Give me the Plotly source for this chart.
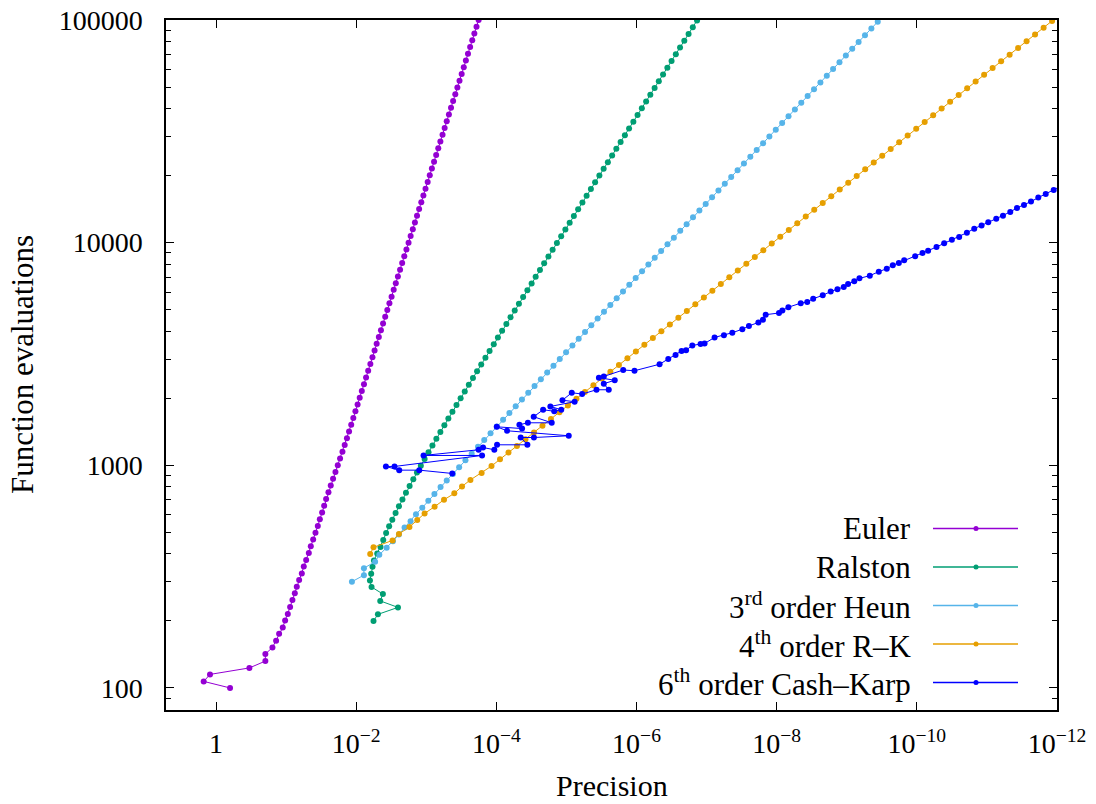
import numpy as np
import plotly.graph_objects as go

# ---------------------------------------------------------------------------
# Function evaluations (y) and log10 of the achieved precision (x) per method
# ---------------------------------------------------------------------------
euler_evals = [100, 107, 115, 123, 132, 142, 152, 163, 175, 187,
               201, 215, 231, 248, 266, 285, 305, 327, 351, 376,
               404, 433, 464, 498, 534, 572, 614, 658, 705, 756,
               811, 870, 933, 1000, 1072, 1150, 1233, 1322, 1417, 1520,
               1630, 1748, 1874, 2009, 2154, 2310, 2477, 2656, 2848, 3054,
               3275, 3511, 3765, 4037, 4329, 4642, 4977, 5337, 5722, 6136,
               6579, 7055, 7565, 8111, 8697, 9326, 10000, 10723, 11498, 12328,
               13219, 14175, 15199, 16298, 17475, 18738, 20092, 21544, 23101, 24771,
               26561, 28480, 30539, 32745, 35112, 37649, 40370, 43288, 46416, 49770,
               53367, 57224, 61359, 65793, 70548, 75646, 81113, 86975, 93260, 100000]
euler_log_prec = [-0.200, 0.176, 0.086, -0.476, -0.704, -0.704, -0.805, -0.857, -0.900, -0.952,
                  -0.986, -1.024, -1.057, -1.090, -1.124, -1.152, -1.186, -1.224, -1.252, -1.286,
                  -1.324, -1.352, -1.386, -1.419, -1.452, -1.481, -1.514, -1.543, -1.571, -1.604,
                  -1.637, -1.670, -1.704, -1.737, -1.770, -1.804, -1.836, -1.868, -1.898, -1.929,
                  -1.959, -1.989, -2.020, -2.050, -2.080, -2.111, -2.141, -2.171, -2.202, -2.232,
                  -2.262, -2.292, -2.323, -2.353, -2.383, -2.414, -2.444, -2.474, -2.505, -2.535,
                  -2.565, -2.595, -2.626, -2.656, -2.686, -2.717, -2.747, -2.777, -2.808, -2.838,
                  -2.868, -2.898, -2.929, -2.959, -2.989, -3.020, -3.050, -3.080, -3.111, -3.141,
                  -3.171, -3.201, -3.232, -3.262, -3.292, -3.323, -3.353, -3.383, -3.414, -3.444,
                  -3.474, -3.505, -3.535, -3.565, -3.595, -3.626, -3.656, -3.686, -3.717, -3.747]

ralston_evals = [200, 214, 230, 246, 264, 284, 304, 326, 350, 374,
                 402, 430, 462, 496, 532, 570, 610, 654, 702, 752,
                 808, 866, 928, 996, 1068, 1144, 1228, 1316, 1410, 1512,
                 1622, 1740, 1866, 2000, 2144, 2300, 2466, 2644, 2834, 3040,
                 3260, 3496, 3748, 4018, 4308, 4620, 4954, 5312, 5696, 6108,
                 6550, 7022, 7530, 8074, 8658, 9284, 9954, 10674, 11444, 12272,
                 13158, 14110, 15130, 16222, 17394, 18652, 20000, 21446, 22996, 24656,
                 26438, 28350, 30398, 32596, 34950, 37476, 40184, 43088, 46202, 49542,
                 53122, 56960, 61078, 65490, 70224, 75298, 80740, 86576, 92832, 99540,
                 106734]
ralston_log_prec = [-2.247, -2.310, -2.596, -2.343, -2.381, -2.219, -2.196, -2.214, -2.233, -2.253,
                    -2.300, -2.347, -2.386, -2.427, -2.470, -2.515, -2.562, -2.610, -2.660, -2.710,
                    -2.762, -2.815, -2.867, -2.922, -2.976, -3.032, -3.088, -3.144, -3.201, -3.258,
                    -3.315, -3.373, -3.431, -3.490, -3.549, -3.607, -3.666, -3.725, -3.784, -3.844,
                    -3.903, -3.963, -4.022, -4.082, -4.143, -4.202, -4.262, -4.322, -4.382, -4.443,
                    -4.503, -4.561, -4.622, -4.682, -4.743, -4.803, -4.864, -4.925, -4.985, -5.046,
                    -5.106, -5.167, -5.228, -5.288, -5.349, -5.409, -5.470, -5.531, -5.591, -5.652,
                    -5.712, -5.773, -5.834, -5.894, -5.955, -6.015, -6.076, -6.137, -6.197, -6.258,
                    -6.318, -6.379, -6.440, -6.500, -6.561, -6.621, -6.682, -6.743, -6.803, -6.864,
                    -6.924]

heun_evals = [300, 321, 345, 369, 396, 426, 456, 489, 525, 561,
              603, 645, 693, 744, 798, 855, 915, 981, 1053, 1128,
              1212, 1299, 1392, 1494, 1602, 1716, 1842, 1974, 2115, 2268,
              2433, 2610, 2799, 3000, 3216, 3450, 3699, 3966, 4251, 4560,
              4890, 5244, 5622, 6027, 6462, 6930, 7431, 7968, 8544, 9162,
              9825, 10533, 11295, 12111, 12987, 13926, 14931, 16011, 17166, 18408,
              19737, 21165, 22695, 24333, 26091, 27978, 30000, 32169, 34494, 36984,
              39657, 42525, 45597, 48894, 52425, 56214, 60276, 64632, 69303, 74313,
              79683, 85440, 91617, 98235, 105336]
heun_log_prec = [-1.939, -2.110, -2.110, -2.270, -2.330, -2.435, -2.524, -2.610, -2.690, -2.776,
                 -2.853, -2.943, -3.029, -3.116, -3.204, -3.292, -3.380, -3.469, -3.559, -3.648,
                 -3.738, -3.827, -3.917, -4.007, -4.096, -4.186, -4.276, -4.365, -4.455, -4.545,
                 -4.635, -4.725, -4.815, -4.905, -4.995, -5.085, -5.175, -5.265, -5.355, -5.445,
                 -5.536, -5.626, -5.717, -5.807, -5.897, -5.988, -6.079, -6.169, -6.260, -6.351,
                 -6.442, -6.533, -6.624, -6.715, -6.806, -6.897, -6.987, -7.078, -7.169, -7.260,
                 -7.351, -7.442, -7.533, -7.624, -7.715, -7.806, -7.896, -7.987, -8.078, -8.169,
                 -8.260, -8.351, -8.442, -8.533, -8.624, -8.715, -8.805, -8.896, -8.987, -9.078,
                 -9.169, -9.260, -9.351, -9.442, -9.533]

rk4_evals = [400, 428, 460, 492, 528, 568, 608, 652, 700, 748,
             804, 860, 924, 992, 1064, 1140, 1220, 1308, 1404, 1504,
             1616, 1732, 1856, 1992, 2136, 2288, 2456, 2632, 2820, 3024,
             3244, 3480, 3732, 4000, 4288, 4600, 4932, 5288, 5668, 6080,
             6520, 6992, 7496, 8036, 8616, 9240, 9908, 10624, 11392, 12216,
             13100, 14044, 15060, 16148, 17316, 18568, 19908, 21348, 22888, 24544,
             26316, 28220, 30260, 32444, 34788, 37304, 40000, 42892, 45992, 49312,
             52876, 56700, 60796, 65192, 69900, 74952, 80368, 86176, 92404, 99084,
             106244]
rk4_log_prec = [-2.200, -2.247, -2.519, -2.610, -2.760, -2.871, -2.976, -3.119, -3.253, -3.400,
                -3.510, -3.630, -3.790, -3.931, -4.052, -4.173, -4.294, -4.415, -4.537, -4.658,
                -4.779, -4.900, -5.021, -5.143, -5.264, -5.385, -5.506, -5.627, -5.749, -5.870,
                -5.991, -6.112, -6.233, -6.355, -6.476, -6.597, -6.718, -6.839, -6.961, -7.082,
                -7.203, -7.324, -7.445, -7.567, -7.688, -7.809, -7.930, -8.051, -8.173, -8.294,
                -8.415, -8.536, -8.657, -8.779, -8.900, -9.021, -9.142, -9.263, -9.385, -9.506,
                -9.627, -9.748, -9.869, -9.991, -10.112, -10.233, -10.354, -10.475, -10.597, -10.718,
                -10.839, -10.960, -11.081, -11.203, -11.324, -11.445, -11.566, -11.687, -11.809, -11.930,
                -12.051]

cashkarp_evals = [919, 951, 951, 988, 988, 1107, 1107, 1174, 1202, 1174,
                  1236, 1236, 1333, 1333, 1357, 1429, 1489, 1462, 1521, 1552,
                  1552, 1652, 1776, 1749, 1776, 1838, 1930, 1960, 2118, 2089,
                  2184, 2184, 2325, 2410, 2474, 2507, 2679, 2659, 2844, 3001,
                  3132, 3264, 3288, 3454, 3505, 3524, 3753, 3839, 3940, 4086,
                  4223, 4384, 4508, 4747, 4831, 4959, 5130, 5347, 5414, 5602,
                  5797, 6035, 6180, 6323, 6523, 6701, 6912, 7108, 7408, 7641,
                  7907, 8106, 8325, 8680, 8989, 9204, 9566, 9929, 10316, 10607,
                  11088, 11560, 11926, 12337, 12820, 13223, 13740, 14322, 14771, 15289,
                  15931, 16556, 17256, 17945]
cashkarp_log_prec = [-3.371, -2.900, -2.614, -2.424, -2.547, -3.796, -2.961, -3.747, -3.810, -3.971,
                     -4.010, -4.443, -4.347, -4.536, -5.033, -4.153, -4.006, -4.367, -4.329, -4.450,
                     -4.790, -4.533, -4.667, -4.826, -4.926, -4.771, -5.117, -4.943, -5.076, -5.224,
                     -5.429, -5.604, -5.533, -5.689, -5.463, -5.533, -5.810, -5.971, -6.329, -6.453,
                     -6.557, -6.643, -6.707, -6.796, -6.914, -6.971, -7.114, -7.247, -7.367, -7.510,
                     -7.604, -7.739, -7.804, -7.843, -8.033, -8.081, -8.167, -8.343, -8.436, -8.521,
                     -8.657, -8.771, -8.867, -8.957, -9.019, -9.107, -9.181, -9.329, -9.457, -9.571,
                     -9.657, -9.743, -9.819, -9.976, -10.081, -10.161, -10.281, -10.390, -10.500, -10.604,
                     -10.714, -10.819, -10.924, -11.019, -11.133, -11.229, -11.333, -11.429, -11.529, -11.629,
                     -11.733, -11.839, -11.953, -12.057]

series_names = ["Euler", "Ralston", "3<sup>rd</sup> order Heun",
                "4<sup>th</sup> order R–K", "6<sup>th</sup> order Cash–Karp"]
series_colors = ["#9400d3", "#009e73", "#56b4e9", "#e69f00", "#0000ff"]
series_data = [(euler_log_prec, euler_evals), (ralston_log_prec, ralston_evals),
               (heun_log_prec, heun_evals), (rk4_log_prec, rk4_evals),
               (cashkarp_log_prec, cashkarp_evals)]

x_tick_exponents = [0, -2, -4, -6, -8, -10, -12]
y_tick_values = [100, 1000, 10000, 100000]

FONT = "Liberation Serif"
W, H = 1096, 804
ML, MR, MT, MB = 166, 39, 20, 94
PW, PH = W - ML - MR, H - MT - MB

fig = go.Figure()
for name, color, (lp, ev) in zip(series_names, series_colors, series_data):
    fig.add_trace(go.Scatter(
        x=10.0 ** np.array(lp), y=ev, mode="lines+markers", name=name,
        line=dict(color=color, width=1),
        marker=dict(color=color, size=6, line=dict(width=0)),
    ))

# key in the lower-right corner: right-aligned label, then a line sample with a dot
def px_x(p):
    return (p - ML) / PW

def px_y(p):
    return (H - MB - p) / PH

row_y = [528.5, 567, 605.5, 644, 682.5]
shapes, annotations = [], []
for name, color, ry in zip(series_names, series_colors, row_y):
    yy = px_y(ry)
    shapes.append(dict(type="line", xref="paper", yref="paper",
                       x0=px_x(933), x1=px_x(1018), y0=yy, y1=yy,
                       line=dict(color=color, width=1.4)))
    shapes.append(dict(type="circle", xref="paper", yref="paper",
                       xsizemode="pixel", ysizemode="pixel",
                       xanchor=px_x(976), yanchor=yy,
                       x0=-2.5, x1=2.5, y0=-2.5, y1=2.5,
                       fillcolor=color, line=dict(width=0)))
    annotations.append(dict(text=name, xref="paper", yref="paper",
                            x=px_x(913), y=yy, xanchor="right", yanchor="middle",
                            showarrow=False, font=dict(family=FONT, size=31, color="black")))

annotations.append(dict(text="Precision", xref="paper", yref="paper",
                        x=0.5, y=px_y(785), xanchor="center", yanchor="middle",
                        showarrow=False, font=dict(family=FONT, size=30, color="black")))
annotations.append(dict(text="Function evaluations", xref="paper", yref="paper",
                        x=px_x(22), y=0.5, xanchor="center", yanchor="middle",
                        textangle=-90, showarrow=False,
                        font=dict(family=FONT, size=31, color="black")))

minor_y = [m * 10 ** e for e in range(1, 5) for m in range(2, 10)]

fig.update_layout(
    width=W, height=H,
    margin=dict(l=ML, r=MR, t=MT, b=MB, pad=0, autoexpand=False),
    plot_bgcolor="white", paper_bgcolor="white",
    showlegend=False,
    font=dict(family=FONT, size=28, color="black"),
    shapes=shapes, annotations=annotations,
    xaxis=dict(
        type="log", range=[0.714, -12], automargin=False,
        tickvals=[10.0 ** e for e in x_tick_exponents],
        ticktext=["1" if e == 0 else "10<sup>−%d</sup>" % (-e) for e in x_tick_exponents],
        ticks="inside", ticklen=8, tickwidth=1, tickcolor="black",
        showline=True, linecolor="black", linewidth=1.5, mirror="ticks",
        showgrid=False, zeroline=False, ticklabelstandoff=8,
        tickfont=dict(family=FONT, size=28, color="black"),
    ),
    yaxis=dict(
        type="log", range=[np.log10(79.6), 5], automargin=False,
        tickvals=y_tick_values, ticktext=[str(v) for v in y_tick_values],
        ticks="inside", ticklen=8, tickwidth=1, tickcolor="black",
        minor=dict(tickvals=minor_y, ticks="inside", ticklen=5, tickwidth=1,
                   tickcolor="black", showgrid=False),
        showline=True, linecolor="black", linewidth=1.5, mirror="ticks",
        showgrid=False, zeroline=False, ticklabelstandoff=16,
        tickfont=dict(family=FONT, size=28, color="black"),
    ),
)

fig.write_html("out.html")
